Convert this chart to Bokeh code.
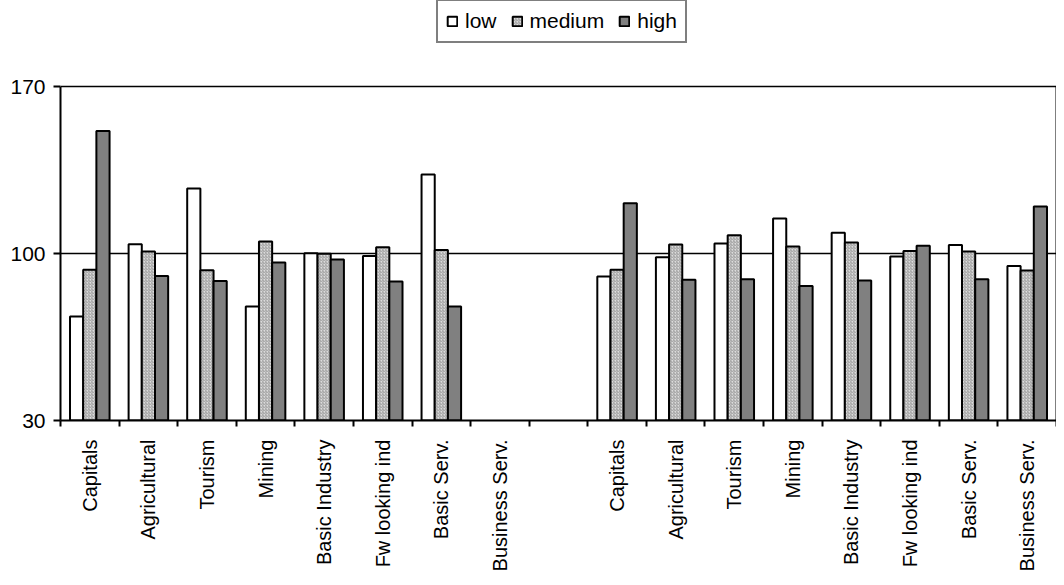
from bokeh.plotting import figure
from bokeh.models import (ColumnDataSource, Range1d, FixedTicker, Legend, LegendItem,
                          LinearAxis)
from bokeh.embed import file_html
from bokeh.resources import INLINE
import math

# ---- data ----
categories = ["Capitals", "Agricultural", "Tourism", "Mining", "Basic Industry",
              "Fw looking ind", "Basic Serv.", "Business Serv.", "",
              "Capitals", "Agricultural", "Tourism", "Mining", "Basic Industry",
              "Fw looking ind", "Basic Serv.", "Business Serv."]
nan = float("nan")
low    = [73.6, 103.9, 127.2, 77.8, 100.1, 98.9, 133.1, nan, nan,
          90.4, 98.4, 104.2, 114.7, 108.7, 98.7, 103.6, 94.8]
medium = [93.2, 100.8, 93.0, 105.0, 99.9, 102.6, 101.5, nan, nan,
          93.2, 103.8, 107.7, 102.9, 104.6, 101.1, 100.8, 92.9]
high   = [151.3, 90.6, 88.5, 96.2, 97.5, 88.3, 77.8, nan, nan,
          121.1, 89.0, 89.2, 86.4, 88.7, 103.3, 89.2, 119.7]
series_names = ["low", "medium", "high"]
y_ticks = [30, 100, 170]
y_min, y_max = 30, 170

FONT = "Liberation Sans"
FS = "21px"
n = len(categories)
centers = [i + 0.5 for i in range(n)]
bounds = [float(i) for i in range(n + 1)]
bw = 0.225

W, H = 1056, 577
FRAME_BOTTOM = 420
AXIS_TOP_PX = 86
top_val = y_max + AXIS_TOP_PX * (y_max - y_min) / (FRAME_BOTTOM - AXIS_TOP_PX)

p = figure(width=W, height=H, output_backend="svg", toolbar_location=None,
           x_range=Range1d(0, n), y_range=Range1d(y_min, top_val),
           min_border_left=60, min_border_right=0, min_border_top=0,
           min_border_bottom=H - FRAME_BOTTOM)
p.background_fill_color = "white"
p.border_fill_color = "white"
p.outline_line_color = None

def src(vals, off):
    xs, tops = [], []
    for c, v in zip(centers, vals):
        if not math.isnan(v):
            xs.append(c + off)
            tops.append(v)
    return ColumnDataSource(dict(x=xs, top=tops))

r_low = p.vbar(x="x", top="top", bottom=y_min, width=bw, source=src(low, -bw),
               fill_color="white", line_color="black", line_width=2)
r_med = p.vbar(x="x", top="top", bottom=y_min, width=bw, source=src(medium, 0),
               fill_color="#dcdcdc", hatch_pattern="/", hatch_color="#8c8c8c",
               hatch_scale=3, hatch_weight=0.8,
               line_color="black", line_width=2)
r_high = p.vbar(x="x", top="top", bottom=y_min, width=bw, source=src(high, bw),
                fill_color="#808080", line_color="black", line_width=2)

# grid
p.xgrid.visible = False
p.ygrid.ticker = FixedTicker(ticks=[100, 170])
p.ygrid.grid_line_color = "black"
p.ygrid.grid_line_width = 1.5

# y axis
ya = p.yaxis[0]
ya.ticker = FixedTicker(ticks=y_ticks)
ya.bounds = (y_min, y_max)
ya.axis_line_width = 2
ya.axis_line_color = "black"
ya.major_tick_out = 7
ya.major_tick_in = 0
ya.major_tick_line_width = 2
ya.minor_tick_line_color = None
ya.major_label_standoff = 8
ya.major_label_text_font = FONT
ya.major_label_text_font_size = FS
ya.major_label_text_color = "black"

# right border of the plot area
ra = LinearAxis(ticker=FixedTicker(ticks=[]), bounds=(y_min, y_max),
                axis_line_width=2, axis_line_color="black",
                major_tick_out=0, major_tick_in=0, minor_tick_out=0, minor_tick_in=0,
                major_tick_line_color=None, minor_tick_line_color=None,
                major_label_standoff=0, major_label_text_font_size="0px")
p.add_layout(ra, "right")

# x axis
xa = p.xaxis[0]
xa.ticker = FixedTicker(ticks=centers, minor_ticks=bounds)
xa.major_label_overrides = {c: lab for c, lab in zip(centers, categories)}
xa.major_tick_out = 0
xa.major_tick_in = 0
xa.minor_tick_out = 6
xa.minor_tick_in = 0
xa.minor_tick_line_width = 2
xa.minor_tick_line_color = "black"
xa.axis_line_width = 2
xa.axis_line_color = "black"
xa.major_label_orientation = math.pi / 2
xa.major_label_standoff = 13
xa.major_label_text_font = FONT
xa.major_label_text_font_size = "20px"
xa.major_label_text_color = "black"

legend = Legend(items=[LegendItem(label=nm, renderers=[r]) for nm, r in
                       zip(series_names, [r_low, r_med, r_high])],
                orientation="horizontal", location=(376, 377))
legend.label_text_font = FONT
legend.label_text_font_size = FS
legend.label_text_color = "black"
legend.glyph_width = 12
legend.glyph_height = 12
legend.label_standoff = 7
legend.spacing = 14
legend.padding = 8
legend.margin = 0
legend.border_line_color = "black"
legend.border_line_width = 2
legend.background_fill_color = "white"
p.add_layout(legend, "center")

open("out.html", "w").write(file_html(p, INLINE))
